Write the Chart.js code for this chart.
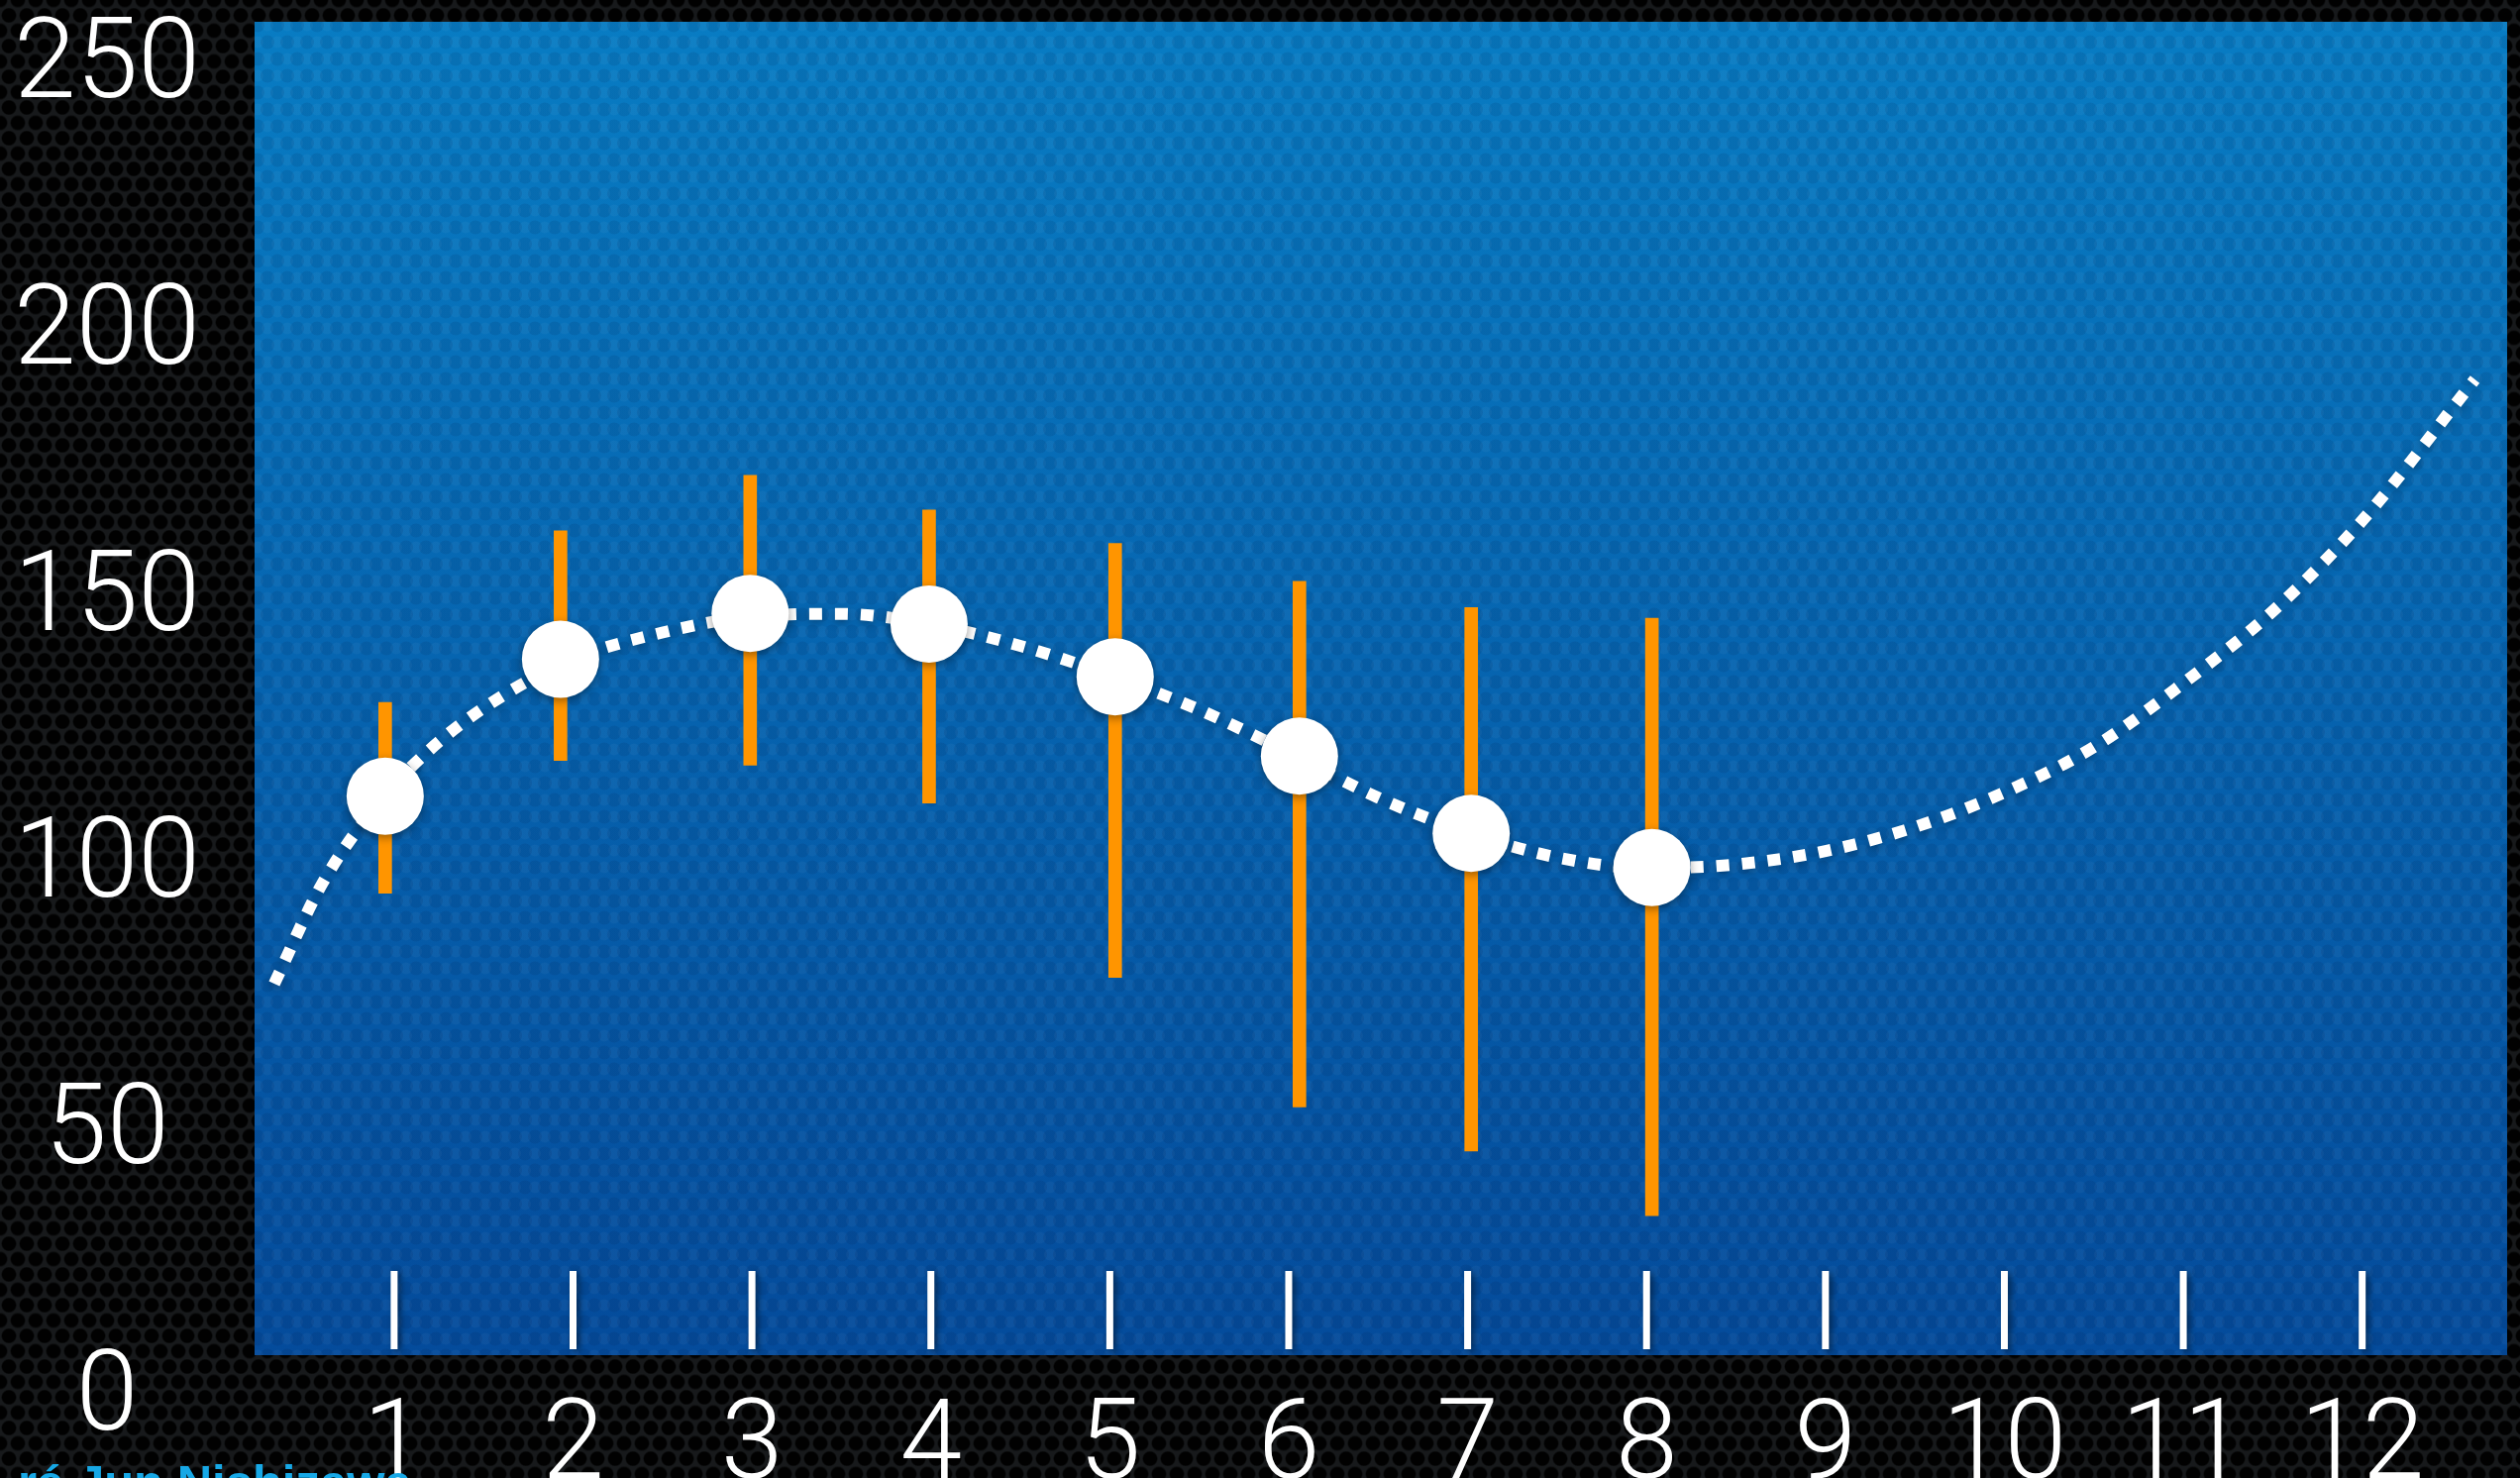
<!DOCTYPE html>
<html>
<head>
<meta charset="utf-8">
<script src="https://cdn.jsdelivr.net/npm/chart.js@4.4.0/dist/chart.umd.min.js"></script>
<style>
html, body { margin: 0; padding: 0; overflow: hidden; }
body {
  width: 2544px; height: 1492px; position: relative;
  background-color: #17191b;
  background-image:
    radial-gradient(circle at 9px 15.5px, #010101 6.5px, rgba(1,1,1,0) 8px),
    radial-gradient(circle at 9px 15.5px, #010101 6.5px, rgba(1,1,1,0) 8px);
  background-size: 18px 31px, 18px 31px;
  background-position: 0 0, 9px 15.5px;
}
#wrap { position: absolute; left: 0; top: 0; width: 2544px; height: 1492px; }
#credit {
  position: absolute; left: 18px; top: 1472px;
  font: bold 49px "Liberation Sans", Arial, sans-serif; line-height: 49px;
  color: #17a8e6; white-space: nowrap;
}
</style>
</head>
<body>
<div id="wrap"><canvas id="chart"></canvas></div>
<div id="credit">ré Jun Nishizawa</div>
<script>
const xTicks = [1, 2, 3, 4, 5, 6, 7, 8, 9, 10, 11, 12];
const yTicks = [0, 50, 100, 150, 200, 250];

// measured points (month, value)
const pointX = [0.95, 1.93, 2.99, 3.99, 5.03, 6.06, 7.02, 8.03];
const pointY = [110.8, 136.5, 145.1, 143.1, 133.2, 118.3, 103.8, 97.4];
const errLow = [92.6, 117.5, 116.6, 109.5, 76.8, 52.5, 44.2, 32.1];
const errHigh = [128.4, 160.6, 171.0, 164.5, 158.2, 151.1, 146.2, 144.2];

// dotted fit curve
const curveX = [0.33, 0.6, 0.95, 1.25, 1.6, 2.0, 2.5, 3.0, 3.5, 4.0, 4.5, 5.0, 5.5, 6.0,
  6.5, 7.0, 7.5, 8.0, 8.5, 9.0, 9.5, 10.0, 10.5, 11.0, 11.5, 12.0, 12.63];
const curveY = [75.6, 94.5, 111, 121, 129.5, 136.5, 141.5, 144.5, 145, 143, 139, 133.5, 127, 119,
  110.5, 104, 99.3, 97.3, 98, 100.5, 105, 111.5, 120, 132, 145.5, 162.5, 189];

const labelFont = { family: 'Roboto, "Helvetica Neue", sans-serif', size: 113, weight: '300' };

// faint honeycomb texture for the blue panel
function makeTexture(ctx) {
  const c = document.createElement('canvas');
  c.width = 20; c.height = 34;
  const t = c.getContext('2d');
  t.fillStyle = 'rgba(0,20,60,0.10)';
  [[10, 8.5], [0, 25.5], [20, 25.5]].forEach(p => {
    t.beginPath(); t.arc(p[0], p[1], 7, 0, Math.PI * 2); t.fill();
  });
  t.fillStyle = 'rgba(255,255,255,0.035)';
  [[0, 8.5], [20, 8.5], [10, 25.5]].forEach(p => {
    t.beginPath(); t.arc(p[0], p[1], 6, 0, Math.PI * 2); t.fill();
  });
  return ctx.createPattern(c, 'repeat');
}

const panelPlugin = {
  id: 'panel',
  beforeDraw(chart) {
    const ctx = chart.ctx;
    const a = chart.chartArea;
    const g = ctx.createLinearGradient(0, a.top, 0, a.bottom);
    g.addColorStop(0, '#087cc3');
    g.addColorStop(1, '#044b9b');
    ctx.save();
    ctx.fillStyle = g;
    ctx.fillRect(a.left, a.top, a.right - a.left, a.bottom - a.top);
    ctx.fillStyle = makeTexture(ctx);
    ctx.fillRect(a.left, a.top, a.right - a.left, a.bottom - a.top);
    ctx.restore();
  },
  beforeDatasetsDraw(chart) {
    // white tick marks standing inside the panel
    const ctx = chart.ctx;
    const a = chart.chartArea;
    const x = chart.scales.x;
    ctx.save();
    ctx.strokeStyle = '#ffffff';
    ctx.lineWidth = 7;
    ctx.shadowColor = 'rgba(0,0,0,0.45)';
    ctx.shadowBlur = 6;
    ctx.shadowOffsetX = 3;
    ctx.shadowOffsetY = 2;
    x.ticks.forEach(t => {
      const px = x.getPixelForValue(t.value);
      ctx.beginPath();
      ctx.moveTo(px, a.bottom - 6);
      ctx.lineTo(px, a.bottom - 85);
      ctx.stroke();
    });
    ctx.restore();
  },
  beforeDatasetDraw(chart, args) {
    const ds = chart.data.datasets[args.index];
    if (ds.shadow) {
      chart.ctx.save();
      chart.ctx.shadowColor = ds.shadow;
      chart.ctx.shadowBlur = 10;
      chart.ctx.shadowOffsetY = 3;
    }
  },
  afterDatasetDraw(chart, args) {
    if (chart.data.datasets[args.index].shadow) chart.ctx.restore();
  }
};

new Chart(document.getElementById('chart'), {
  type: 'line',
  data: {
    datasets: [{
      label: 'points',
      data: pointX.map((x, i) => ({ x: x, y: pointY[i] })),
      showLine: false,
      pointRadius: 39,
      pointHoverRadius: 39,
      pointBackgroundColor: '#ffffff',
      pointBorderWidth: 0,
      shadow: 'rgba(0,0,0,0.4)',
      order: 0
    }, {
      type: 'bar',
      label: 'range',
      data: pointX.map((x, i) => ({ x: x, y: [errLow[i], errHigh[i]] })),
      backgroundColor: '#ff9500',
      borderWidth: 0,
      barThickness: 13,
      grouped: false,
      order: 1
    }, {
      label: 'fit',
      data: curveX.map((x, i) => ({ x: x, y: curveY[i] })),
      borderColor: '#ffffff',
      borderWidth: 12,
      borderDash: [13, 13],
      borderCapStyle: 'butt',
      cubicInterpolationMode: 'monotone',
      pointRadius: 0,
      fill: false,
      shadow: 'rgba(0,0,0,0.3)',
      order: 2
    }]
  },
  options: {
    responsive: true,
    maintainAspectRatio: false,
    animation: false,
    events: [],
    layout: { autoPadding: false, padding: { top: 22, right: 13, left: 0, bottom: 0 } },
    plugins: { legend: { display: false }, tooltip: { enabled: false } },
    scales: {
      x: {
        type: 'linear',
        min: 0.22,
        max: 12.81,
        offset: false,
        grid: { display: false },
        border: { display: false },
        afterBuildTicks: s => { s.ticks = xTicks.map(v => ({ value: v })); },
        afterFit: s => { s.height = 124; s.paddingLeft = 0; s.paddingRight = 0; },
        ticks: {
          color: '#ffffff',
          font: labelFont,
          padding: 20,
          autoSkip: false,
          maxRotation: 0,
          callback: v => String(v)
        }
      },
      y: {
        min: 5.9,
        max: 256.1,
        grid: { display: false },
        border: { display: false },
        afterBuildTicks: s => { s.ticks = yTicks.map(v => ({ value: v })); },
        afterFit: s => { s.width = 257; s.paddingTop = 0; s.paddingBottom = 0; },
        ticks: {
          color: '#ffffff',
          font: labelFont,
          crossAlign: 'center',
          padding: 47,
          labelOffset: 15,
          autoSkip: false,
          callback: v => String(v)
        }
      }
    }
  },
  plugins: [panelPlugin]
});
</script>
</body>
</html>
